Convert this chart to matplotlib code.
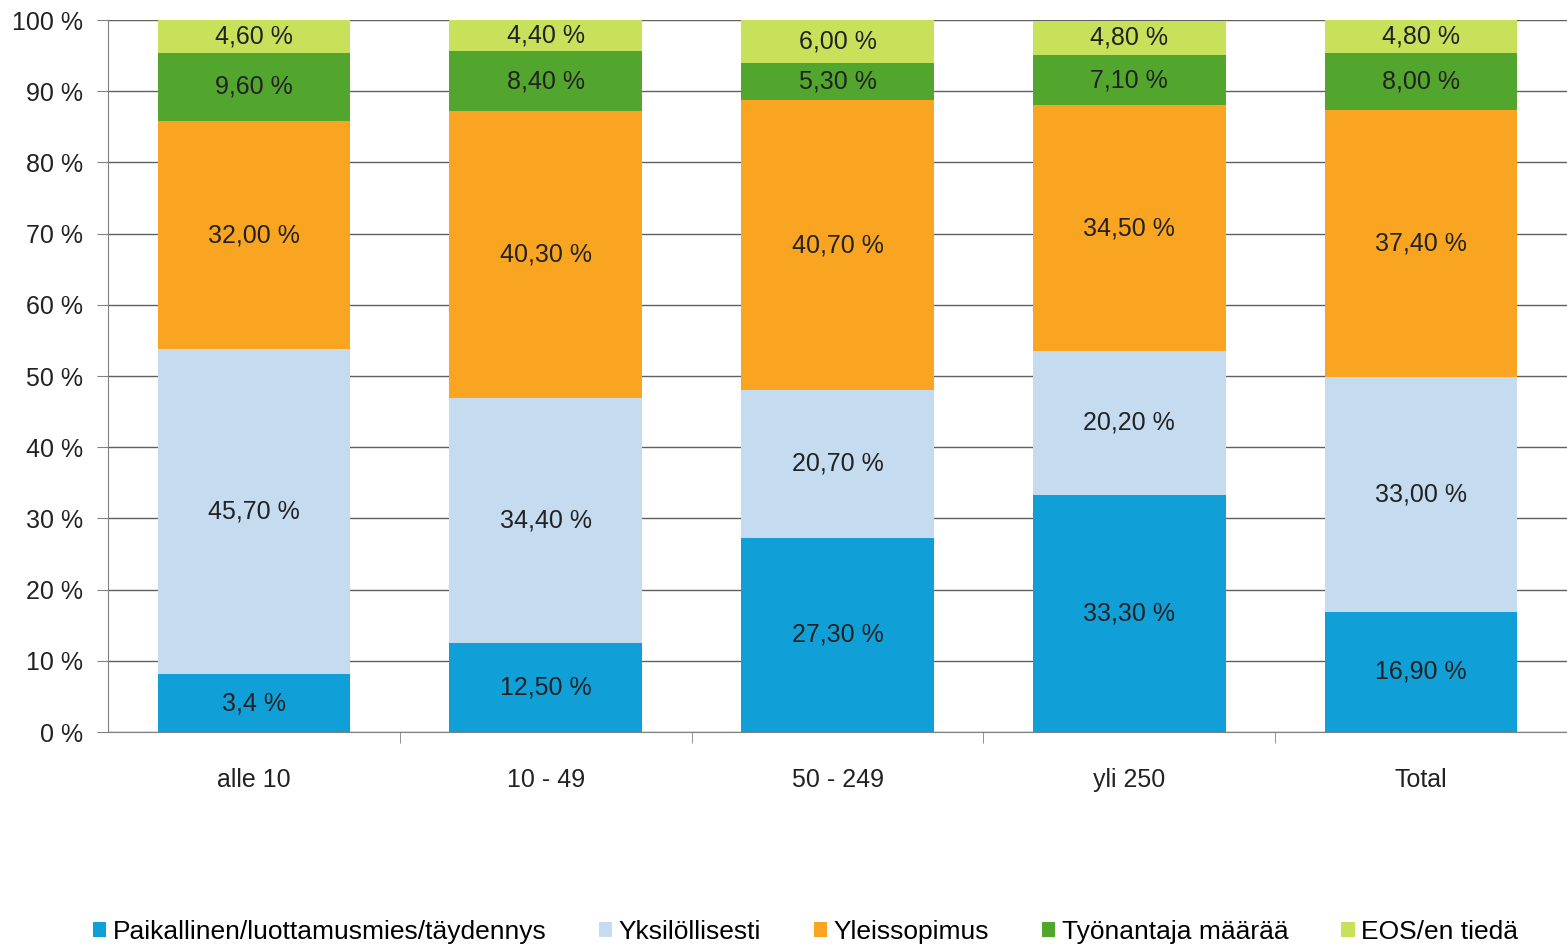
import matplotlib
matplotlib.use('Agg')
import matplotlib.pyplot as plt
from matplotlib.patches import Patch
import numpy as np

plt.rcParams['font.family'] = ['Liberation Sans', 'DejaVu Sans']

categories = ['alle 10', '10 - 49', '50 - 249', 'yli 250', 'Total']
series_names = ['Paikallinen/luottamusmies/täydennys', 'Yksilöllisesti',
                'Yleissopimus', 'Työnantaja määrää', 'EOS/en tiedä']
# bar heights (first bar of first series drawn as ~8 although labelled 3,4 %)
paikallinen = [8.1, 12.5, 27.3, 33.3, 16.9]
yksilollisesti = [45.7, 34.4, 20.7, 20.2, 33.0]
yleissopimus = [32.0, 40.3, 40.7, 34.5, 37.4]
tyonantaja = [9.6, 8.4, 5.3, 7.1, 8.0]
eos = [4.6, 4.4, 6.0, 4.8, 4.8]
labels = [
    ['3,4 %', '12,50 %', '27,30 %', '33,30 %', '16,90 %'],
    ['45,70 %', '34,40 %', '20,70 %', '20,20 %', '33,00 %'],
    ['32,00 %', '40,30 %', '40,70 %', '34,50 %', '37,40 %'],
    ['9,60 %', '8,40 %', '5,30 %', '7,10 %', '8,00 %'],
    ['4,60 %', '4,40 %', '6,00 %', '4,80 %', '4,80 %'],
]
colors = ['#119fd8', '#c5dbf0', '#f9a521', '#52a62e', '#c8e15a']

data = [paikallinen, yksilollisesti, yleissopimus, tyonantaja, eos]

fig = plt.figure(figsize=(15.67, 9.47), dpi=100)
ax = fig.add_axes([108/1567, 1 - 732/947, (1567-108)/1567, (732-20)/947])

x = np.arange(len(categories))
bottom = np.zeros(len(categories))
for vals, col, labs in zip(data, colors, labels):
    vals = np.array(vals)
    ax.bar(x, vals, bottom=bottom, width=0.66, color=col, zorder=3)
    for xi, b, v, t in zip(x, bottom, vals, labs):
        ax.text(xi, b + v/2, t, ha='center', va='center', fontsize=18,
                color='#222222', zorder=4)
    bottom = bottom + vals

ax.set_xlim(-0.5, 4.5)
ax.set_ylim(0, 100)
ax.set_yticks(range(0, 101, 10))
ax.set_yticklabels([f'{v} %' for v in range(0, 101, 10)], fontsize=18, color='#222222')
ax.yaxis.grid(True, color='#606060', linewidth=1, zorder=0)
ax.tick_params(axis='y', length=8, color='#808080', pad=10)

ax.set_xticks(x)
ax.set_xticklabels(categories, fontsize=18, color='#222222')
ax.tick_params(axis='x', length=0, pad=26)
ax.set_xticks(np.arange(0.5, 4.5, 1), minor=True)
ax.tick_params(axis='x', which='minor', length=8, color='#808080')

for s in ['top', 'right']:
    ax.spines[s].set_visible(False)
ax.spines['left'].set_color('#808080')
ax.spines['bottom'].set_color('#808080')

handles = [Patch(facecolor=c, edgecolor='none') for c in colors]
fig.legend(handles, series_names, loc='lower center', bbox_to_anchor=(0.514, -0.022),
           ncol=5, frameon=False, fontsize=19, handlelength=0.5, handleheight=0.5,
           handletextpad=0.25, columnspacing=2.0)

fig.savefig('out.png', dpi=100)
